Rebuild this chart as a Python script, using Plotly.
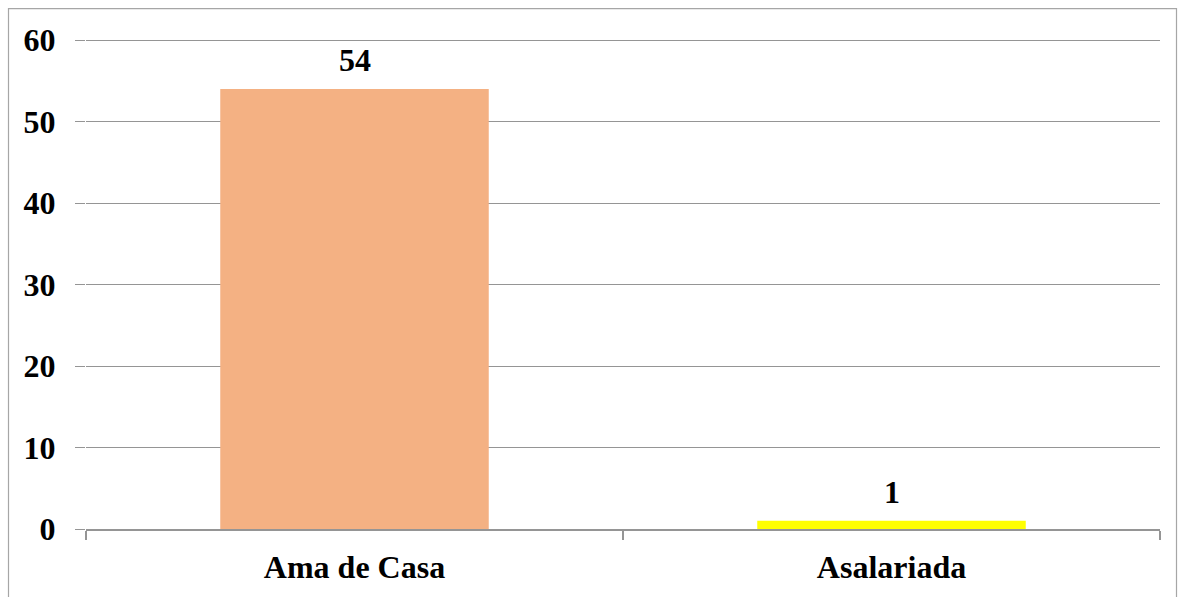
import plotly.graph_objects as go

categories = ["Ama de Casa", "Asalariada"]
values = [54, 1]
bar_colors = ["#F4B183", "#FFFF00"]
y_ticks = [0, 10, 20, 30, 40, 50, 60]

W, H = 1178, 597
L, R, T, B = 86, 18, 38.5, 66.3
plot_w = W - L - R
plot_h = H - T - B

serif = dict(family="Liberation Serif", size=32, color="black", weight="bold")

fig = go.Figure(
    go.Bar(
        x=categories,
        y=values,
        marker=dict(color=bar_colors, line=dict(width=0)),
        width=0.5,
        cliponaxis=False,
    )
)

# Value labels above each bar
for cat, v in zip(categories, values):
    fig.add_annotation(
        x=cat, y=v, text=str(v), showarrow=False,
        yanchor="bottom", yshift=9, font=serif,
    )

grid = "#959595"
fig.update_layout(
    width=W,
    height=H,
    margin=dict(l=L, r=R, t=T, b=B),
    paper_bgcolor="white",
    plot_bgcolor="white",
    showlegend=False,
    font=serif,
    xaxis=dict(
        showline=True,
        linecolor=grid,
        linewidth=1.5,
        ticks="outside",
        tickson="boundaries",
        ticklen=9,
        tickcolor=grid,
        tickwidth=1.5,
        showgrid=False,
        tickfont=serif,
        ticklabelstandoff=9,
    ),
    yaxis=dict(
        range=[0, 60.15],
        tickvals=y_ticks,
        showline=False,
        showgrid=True,
        gridcolor=grid,
        gridwidth=1.2,
        zeroline=False,
        ticks="outside",
        ticklen=10,
        tickcolor=grid,
        tickwidth=1.2,
        tickfont=serif,
        ticklabelstandoff=13,
    ),
)

# Outer frame around the whole chart
fig.add_shape(
    type="rect",
    xref="paper",
    yref="paper",
    x0=(8.5 - L) / plot_w,
    x1=(1176.5 - L) / plot_w,
    y0=(H - B - 610) / plot_h,
    y1=(H - B - 8) / plot_h,
    line=dict(color="#a6a6a6", width=1.2),
    fillcolor="rgba(0,0,0,0)",
    layer="below",
)

fig.write_html("out.html")
